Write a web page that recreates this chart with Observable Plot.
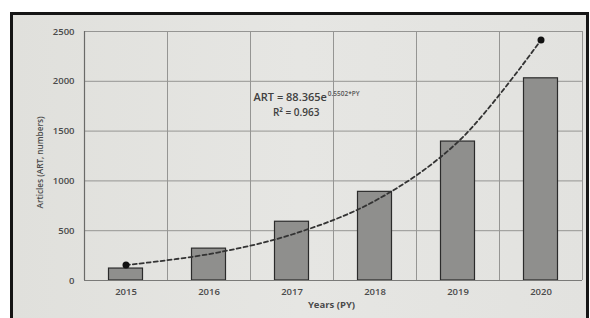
<!DOCTYPE html>
<html>
<head>
<meta charset="utf-8">
<script src="https://cdn.jsdelivr.net/npm/d3@7"></script>
<script src="https://cdn.jsdelivr.net/npm/@observablehq/plot@0.6"></script>
<style>
  html, body { margin: 0; padding: 0; background: #fff; }
  #wrap { position: relative; width: 590px; height: 318px; overflow: hidden; background: #fff; }
  #frame { position: absolute; left: 10px; top: 12px; width: 573px; height: 320px;
           border: 3px solid #151515; background: linear-gradient(90deg, #e0e0dc, #e6e6e3 50%, #e2e2df); }
  #chart { position: absolute; left: 0; top: 0; }
  #chart svg { background: transparent !important; }
</style>
</head>
<body>
<div id="wrap"><div id="frame"></div><div id="chart"></div></div>
<script>
const years = [2015, 2016, 2017, 2018, 2019, 2020];
const articles = [120, 320, 590, 890, 1395, 2030];
const trendValues = [155, 265, 462, 800, 1392, 2415];
const yTicks = [0, 500, 1000, 1500, 2000, 2500];
const equationText = "ART = 88.365e";
const exponentText = "0.5502*PY";
const r2Text = "R² = 0.963";
const xLabel = "Years (PY)";
const yLabel = "Articles (ART, numbers)";

const bars = years.map((y, i) => ({year: y, count: articles[i]}));
const trend = years.map((y, i) => ({year: y, value: trendValues[i]}));
const ends = [trend[0], trend[trend.length - 1]];
const gridYears = years.map(y => y - 0.5).concat([years[years.length - 1] + 0.5]);

const font = "'Open Sans', sans-serif";
const textColor = "#4a4a4a";

const chart = Plot.plot({
  width: 590,
  height: 318,
  marginLeft: 84,
  marginRight: 8,
  marginTop: 31,
  marginBottom: 38,
  style: {background: "transparent", fontFamily: font, color: textColor},
  x: {type: "linear", domain: [years[0] - 0.5, years[years.length - 1] + 0.5]},
  y: {domain: [0, 2500]},
  marks: [
    Plot.gridY(yTicks, {stroke: "#959593", strokeOpacity: 1, strokeWidth: 1}),
    Plot.gridX(gridYears, {stroke: "#959593", strokeOpacity: 1, strokeWidth: 1}),
    Plot.ruleX([gridYears[0]], {stroke: "#6a6a68", strokeWidth: 1.2}),
    Plot.rectY(bars, {x1: d => d.year - 0.5, x2: d => d.year + 0.5, y: "count",
      insetLeft: 24.5, insetRight: 24.5, fill: "#8f8f8d", stroke: "#2b2b2b", strokeWidth: 1.2}),
    Plot.ruleY([0], {stroke: "#7a7a78", strokeWidth: 1.2}),
    Plot.line(trend, {x: "year", y: "value", curve: "catmull-rom", stroke: "#333",
      strokeWidth: 1.8, strokeDasharray: "4,3"}),
    Plot.dot(ends, {x: "year", y: "value", r: 3.5, fill: "#111", stroke: "none"}),
    Plot.axisY(yTicks, {tickSize: 0, tickPadding: 10, label: null, tickFormat: d => String(d),
      fontSize: 9.5, fontWeight: 600, fill: textColor}),
    Plot.axisX(years, {tickSize: 0, tickPadding: 8, tickFormat: d => String(d), label: null,
      fontSize: 9.5, fontWeight: 600, fill: textColor}),
    Plot.text([equationText], {x: 2017.42, y: 1837, text: d => d, textAnchor: "end",
      fontSize: 11, fontWeight: 600, fill: "#404040", style: "letter-spacing: 1.3px"}),
    Plot.text([exponentText], {x: 2017.42, y: 1837, text: d => d, textAnchor: "start", dx: 1, dy: -4,
      fontSize: 6.5, fontWeight: 600, fill: "#555"}),
    Plot.text([r2Text], {x: 2017.05, y: 1687, text: d => d, fontSize: 10, fontWeight: 600, fill: "#404040"}),
    Plot.text([xLabel], {frameAnchor: "bottom", dy: 27, dx: -2, text: d => d, fontSize: 9.5,
      fontWeight: 700, fill: textColor}),
    Plot.text([yLabel], {frameAnchor: "left", textAnchor: "middle", dx: -44, dy: 6.5, rotate: -90,
      text: d => d, fontSize: 8.2, fontWeight: 600, fill: textColor})
  ]
});
document.getElementById("chart").appendChild(chart);
</script>
</body>
</html>
